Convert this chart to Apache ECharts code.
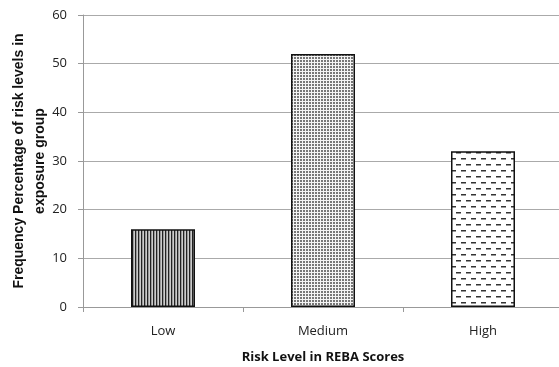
<!DOCTYPE html>
<html><head><meta charset="utf-8">
<script src="https://cdn.jsdelivr.net/npm/echarts@6/dist/echarts.min.js"></script>
<style>html,body{margin:0;padding:0;background:#fff}#c{width:559px;height:367px}</style>
</head><body><div id="c"></div>
<script>
var categories = ['Low', 'Medium', 'High'];
var values = [16, 52, 32];
var yTicks = [0, 10, 20, 30, 40, 50, 60];

function tile(w, h, draw) {
  var c = document.createElement('canvas');
  c.width = w; c.height = h;
  var g = c.getContext('2d');
  g.fillStyle = '#fff'; g.fillRect(0, 0, w, h);
  draw(g);
  return c;
}
var pLow = tile(3, 4, function (g) {
  g.fillStyle = '#222'; g.fillRect(0, 0, 1, 4);
  g.fillStyle = '#999'; g.fillRect(1, 0, 1, 4);
  g.fillStyle = '#ccc'; g.fillRect(2, 0, 1, 4);
});
var pMed = tile(3, 3, function (g) {
  g.fillStyle = '#ddd'; g.fillRect(0, 0, 3, 3);
  g.fillStyle = '#f4f4f4'; g.fillRect(2, 0, 1, 3); g.fillRect(0, 2, 3, 1);
  g.fillStyle = '#777'; g.fillRect(0, 0, 2, 2);
});
var pHigh = tile(10, 12, function (g) {
  g.fillStyle = '#333';
  g.fillRect(1, 2, 5, 1.5);
  g.fillRect(6, 8, 4, 1.5); g.fillRect(0, 8, 1, 1.5);
});
var patterns = [pLow, pMed, pHigh];

var chart = echarts.init(document.getElementById('c'), null, {renderer: 'canvas'});
chart.setOption({
  animation: false,
  grid: {left: 83, top: 15, width: 480, height: 292, containLabel: false, outerBoundsMode: 'none'},
  xAxis: {
    type: 'category', data: categories,
    axisLine: {lineStyle: {color: '#999', width: 1}},
    axisTick: {show: true, length: 5, lineStyle: {color: '#999'}},
    axisLabel: {color: '#222', fontSize: 13, fontFamily: 'Open Sans', margin: 18},
    name: 'Risk Level in REBA Scores', nameLocation: 'middle', nameGap: 44,
    nameTextStyle: {fontWeight: 'bold', fontSize: 13, color: '#111', fontFamily: 'Open Sans'}
  },
  yAxis: {
    type: 'value', min: yTicks[0], max: yTicks[yTicks.length - 1], interval: 10,
    axisLine: {show: true, lineStyle: {color: '#999'}},
    axisTick: {show: true, length: 5, lineStyle: {color: '#999'}},
    splitLine: {lineStyle: {color: '#aaa', width: 1}},
    axisLabel: {color: '#222', fontSize: 13, fontFamily: 'Open Sans', margin: 16},
    name: 'Frequency Percentage of risk levels in\nexposure group', nameLocation: 'middle', nameGap: 32,
    nameMoveOverlap: false,
    nameTextStyle: {fontWeight: 'bold', fontSize: 14, color: '#111', fontFamily: 'Liberation Sans', lineHeight: 21}
  },
  series: [{
    type: 'bar', barWidth: '40%',
    data: values.map(function (v, i) {
      return {value: v, itemStyle: {color: {image: patterns[i], repeat: 'repeat'}, borderColor: '#111', borderWidth: 1.5}};
    })
  }]
});
</script></body></html>
